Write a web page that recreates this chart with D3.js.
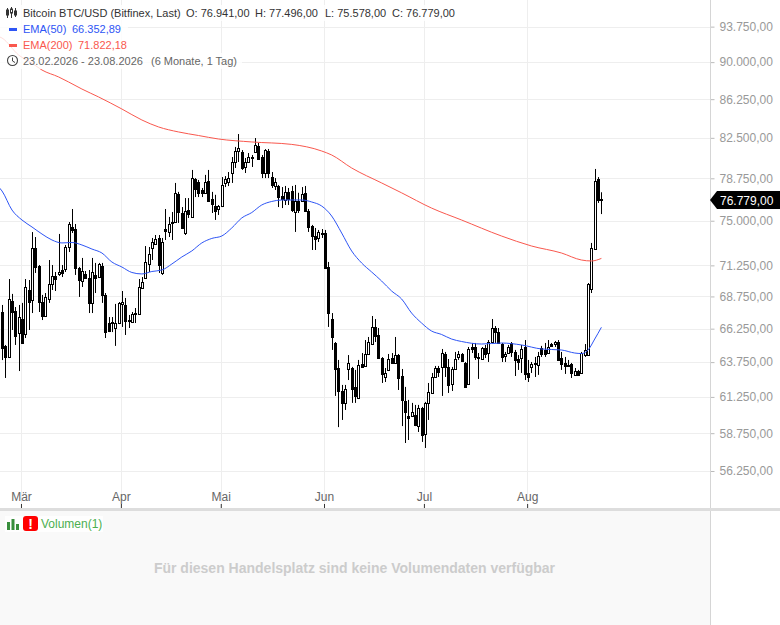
<!DOCTYPE html>
<html>
<head>
<meta charset="utf-8">
<script src="https://cdnjs.cloudflare.com/ajax/libs/d3/7.8.5/d3.min.js"></script>
<style>
  html, body { margin: 0; padding: 0; background: #fff; }
  svg { display: block; font-family: "Liberation Sans", Arial, sans-serif; }
</style>
</head>
<body>
<div id="chart"></div>
<script>
// daily candles, 23.02.2026 - 23.08.2026
const opens = [
  67530,64950,64130,68390,67610,65920,66990,65850,69260,68470,
  72690,71200,68310,67220,68550,69740,70390,70550,70870,70950,
  72770,74470,74290,71040,69980,70550,70220,68240,70470,70300,
  71200,68870,66680,66750,66300,66680,68160,68080,66910,66760,
  67450,67380,69420,70220,71360,72690,73030,73530,70630,74290,
  74040,74890,74890,77360,75670,73950,75930,75330,78680,78420,
  77700,77450,78510,76900,76280,76020,76280,78330,78420,79230,
  80240,81260,81170,79780,80240,80700,81170,81730,80700,79230,
  81260,78860,78060,78060,77170,76810,77530,77610,75760,76720,
  76720,77450,75850,74550,73700,73530,73950,73950,71120,66990,
  65170,63320,61670,60830,63250,63320,61960,61180,63620,63470,
  64350,65090,66380,65770,64050,62670,63180,64050,63690,64270,
  62740,60970,59920,59920,59990,59230,60480,58700,60830,61530,
  62670,63320,63400,64350,63400,62170,63250,64130,64350,63690,
  62170,64870,64870,64130,63980,64790,64420,65240,66300,66000,
  65090,64200,64420,65170,64500,63980,64050,64870,62960,63400,
  63690,63540,64790,64650,64420,65090,65090,65240,64050,63690,
  63540,63620,62820,63100,62960,64270,64270,69340,72600,78680,76941
]
const highs = [
  68080,65020,70140,68950,67920,68080,68240,70140,70060,74030,
  73610,71280,68870,69020,71690,71280,70710,73870,71280,72940,
  74890,76020,74720,71120,71860,70790,70870,71860,71450,71450,
  71450,69020,67140,67140,68160,68310,69180,68630,67300,67530,
  67840,70140,70300,72850,72770,73530,73780,73780,73530,76020,
  75330,75760,78330,77530,76190,76980,76980,79510,78770,78600,
  77880,79060,79510,77530,77270,76370,78860,78950,79320,80700,
  81640,82860,81350,80610,81070,80890,82480,82010,80890,81440,
  81450,79320,78770,78150,77960,78060,77880,78060,78150,77450,
  77960,78060,76020,74640,74380,74210,74290,74210,71530,67450,
  65240,63910,62100,62100,64270,63400,63180,63910,64420,65390,
  65620,67220,66990,66300,64120,63320,64350,64420,65620,64350,
  63250,61960,61040,60830,60690,60690,60550,60900,62240,62960,
  63470,63470,64720,64500,63980,63400,64500,64570,64420,63760,
  64870,65170,65170,64420,64870,65020,65390,66990,66450,66300,
  65170,64500,65020,65240,64650,64270,65020,65390,63910,63760,
  64130,64500,64950,65170,65390,65170,65320,65390,64500,64130,
  63910,63690,63320,63180,64500,65090,69820,73110,79600,78860,77496
]
const lows = [
  63900,62600,64050,66150,65020,63100,65090,65540,66150,67450,
  70630,67530,66910,67150,68240,69260,69180,70390,70300,70710,
  72350,73950,70470,68710,69500,70220,67450,67450,69020,70220,
  68240,65540,65990,65990,64950,66600,66380,65770,66300,66680,
  66680,67380,69340,70140,70710,71690,72940,70630,70470,73360,
  73610,73360,74810,74810,74290,73780,75240,75240,77070,77070,
  77070,77400,76640,75670,75070,75500,76190,77960,78050,78330,
  79690,80240,79510,79230,80150,79780,81100,80430,78770,78770,
  78770,77880,77700,76190,76100,76370,76370,75760,74040,75670,
  76640,75760,74040,72520,72520,73190,73530,70950,66380,64650,
  61320,59160,59650,60340,62450,60830,60830,61100,63320,63400,
  64270,65020,65240,63980,62240,62310,63100,63620,63620,61740,
  59230,58090,58290,59850,59230,58830,58160,57760,59650,61460,
  62600,62670,61320,62670,61530,61670,63180,63910,63760,61880,
  62100,64420,63910,62530,63910,64050,63760,65170,65170,65090,
  63760,63760,64350,64130,62740,63180,62960,62450,62310,62960,
  62670,62820,64130,64130,64350,64870,64870,63830,63180,62890,
  63400,62600,62740,62740,62890,64130,64200,69020,72600,76550,75578
]
const closes = [
  64790,64130,68550,67530,65690,67140,65170,69500,68310,72690,
  71120,68310,67220,68710,69740,70390,70140,70710,70630,72770,
  74720,74210,71040,70060,70790,70220,68240,70710,70220,71360,
  68870,66000,66070,66680,66680,68240,68310,66840,66840,67380,
  67380,69500,69900,71530,72190,73190,73440,71280,73190,74120,
  74720,74810,77450,75760,74380,75850,75590,78770,77790,77450,
  77450,78420,76720,76460,75850,76280,78150,78680,78770,80240,
  81260,81540,79690,80240,80700,80610,81830,80520,79230,81350,
  79230,78150,78420,77070,76900,77530,76900,75930,76720,75930,
  77360,75850,74470,73700,73440,74040,73870,71040,67450,65620,
  63250,61670,60830,61810,63690,61810,61320,63540,63400,64350,
  65240,66380,65690,64050,62890,62960,63980,63690,64270,62600,
  61040,60200,59780,60200,59310,60480,58630,60830,61600,62670,
  63320,63030,64420,63400,62100,63250,63980,64350,63830,61960,
  64720,64720,64130,64050,64790,64350,65240,66300,66000,65170,
  64130,64350,64870,64500,63910,63760,64720,62890,62670,63620,
  63620,64200,64350,64350,64870,64950,65240,63910,63620,63470,
  63470,62960,63100,62820,64420,64650,69740,72690,78510,76810,76779
]

// EMA readings, taken at these bar numbers (bar -1 lies at the left edge of the plot)
const ema50Bars = [-1,0,3,6,9,12,15,18,21,24,27,30,33,36,39,42,45,48,51,54,57,60,63,66,69,72,75,78,81,84,90,93,96,99,102,105,108,111,114,117,120,123,126,129,132,135,138,144,150,156,162,168,172,174,176,178,180]
const ema50 = [77960,77610,75930,75065,74465,73865,73360,73110,73150,72940,72600,72270,71525,71115,70670,70550,70750,70870,71360,71940,72440,73110,73490,73695,74380,75240,75710,76370,76680,76810,76810,76635,76280,75410,73950,72440,71445,70710,69980,69180,68550,67450,66680,66070,65810,65465,65280,65090,65165,65020,64720,64645,64420,64380,64645,65465,66353]
const ema200Bars = [-1,0,5,9,12,17,20,24,29,36,42,47,53,59,65,75,87,96,99,105,114,120,129,138,150,159,168,174,177,180]
const ema200 = [92700,92530,90740,89900,89190,88480,87970,87260,86470,85280,84210,83540,83060,82720,82390,82110,81880,81260,80890,79690,78330,77445,76100,75065,73695,72855,72270,71690,71610,71822]

const priceTicks = [93750,90000,86250,82500,78750,75000,71250,68750,66250,63750,61250,58750,56250]
const monthNames = ['Mär','Apr','Mai','Jun','Jul','Aug']
const monthBars = [6,36,66,97,127,158]
const lastPrice = 76779

const width = 780
const height = 625
const plotRight = 710
const plotBottom = 508

const de = d3.formatLocale({decimal: ',', thousands: '.', grouping: [3], currency: ['', '']})
const fmtPrice = de.format(',.2f')

const x = d3.scaleLinear().domain([0, 180]).range([2, 601.4])
const y = d3.scaleLog().domain([56250, 78750]).range([471, 178.3])

const svg = d3.select('#chart').append('svg')
  .attr('width', width).attr('height', height)
  .attr('viewBox', [0, 0, width, height])

// volume panel background
svg.append('rect').attr('x', 0).attr('y', plotBottom).attr('width', plotRight).attr('height', height - plotBottom).attr('fill', '#f9f9f9')

// grid
svg.append('g').selectAll('line').data(priceTicks).join('line')
  .attr('x1', 0).attr('x2', plotRight)
  .attr('y1', d => Math.round(y(d)) + 0.5).attr('y2', d => Math.round(y(d)) + 0.5)
  .attr('stroke', '#eeeeee')
svg.append('g').selectAll('line').data(monthBars).join('line')
  .attr('x1', d => Math.round(x(d)) - 0.5).attr('x2', d => Math.round(x(d)) - 0.5)
  .attr('y1', 0).attr('y2', plotBottom)
  .attr('stroke', '#eeeeee')

// candles
const bars = d3.range(opens.length)
const candles = svg.append('g')
candles.selectAll('line').data(bars).join('line')
  .attr('x1', i => Math.round(x(i)) + 0.5).attr('x2', i => Math.round(x(i)) + 0.5)
  .attr('y1', i => y(highs[i])).attr('y2', i => y(lows[i]))
  .attr('stroke', '#000')
candles.selectAll('rect').data(bars).join('rect')
  .attr('x', i => Math.round(x(i)) - 0.5)
  .attr('width', 2)
  .attr('y', i => Math.round(y(Math.max(opens[i], closes[i]))) + 0.5)
  .attr('height', i => Math.max(1, Math.round(y(Math.min(opens[i], closes[i]))) - Math.round(y(Math.max(opens[i], closes[i])))))
  .attr('fill', i => closes[i] >= opens[i] ? '#fff' : '#000')
  .attr('stroke', '#000')

// EMAs
const emaLine = d3.line().x(d => x(d[0])).y(d => y(d[1])).curve(d3.curveMonotoneX)
svg.append('path').attr('d', emaLine(d3.zip(ema50Bars, ema50)))
  .attr('fill', 'none').attr('stroke', '#2e55f5').attr('stroke-width', 1)
svg.append('path').attr('d', emaLine(d3.zip(ema200Bars, ema200)))
  .attr('fill', 'none').attr('stroke', '#f9584e').attr('stroke-width', 1)

// price axis
const yAxis = svg.append('g').attr('transform', `translate(${plotRight + 0.5},0)`)
  .call(d3.axisRight(y).tickValues(priceTicks).tickSize(4).tickPadding(5).tickFormat(fmtPrice))
yAxis.select('.domain').remove()
yAxis.selectAll('.tick line').attr('stroke', '#bbbbbb')
yAxis.selectAll('.tick text').attr('fill', '#999999').attr('font-size', 12).attr('font-family', '"Liberation Sans", Arial, sans-serif')
svg.append('line').attr('x1', plotRight + 0.5).attr('x2', plotRight + 0.5).attr('y1', 0).attr('y2', height).attr('stroke', '#d5d5d5')

// last price tag
const tagY = Math.round(y(lastPrice))
svg.append('path')
  .attr('d', d3.line()([[plotRight, tagY], [plotRight + 7, tagY - 9], [width, tagY - 9], [width, tagY + 9], [plotRight + 7, tagY + 9]]) + 'Z')
  .attr('fill', '#000')
svg.append('text').attr('x', 720).attr('y', tagY + 4.5).attr('fill', '#fff').attr('font-size', 12).text(fmtPrice(lastPrice))

// month axis
const xAxis = svg.append('g').attr('transform', `translate(-1,${plotBottom - 4})`)
  .call(d3.axisBottom(x).tickValues(monthBars).tickSize(4).tickFormat((d, i) => monthNames[i]))
xAxis.select('.domain').remove()
xAxis.selectAll('.tick line').attr('stroke', '#333')
xAxis.selectAll('.tick text').attr('fill', '#666666').attr('font-size', 12).attr('font-family', '"Liberation Sans", Arial, sans-serif').attr('y', -3).attr('dy', 0)

// separator between the panels
svg.append('rect').attr('x', 0).attr('y', plotBottom).attr('width', width).attr('height', 3).attr('fill', '#dddddd')

// legend
const legend = svg.append('g')
const rows = [[0, 5, 458, 16], [0, 21, 128, 16], [0, 37, 134, 16], [0, 53, 242, 16]]
legend.selectAll('rect').data(rows).join('rect')
  .attr('x', d => d[0]).attr('y', d => d[1]).attr('width', d => d[2]).attr('height', d => d[3])
  .attr('fill', '#fff').attr('opacity', 0.8)

// candle icon
const icon = legend.append('g').attr('stroke', '#333').attr('fill', '#333')
;[[7.5, 8, 18, 10, 15], [11.5, 7, 18, 9, 13], [15.5, 8, 17, 11, 15]].forEach(d => {
  icon.append('line').attr('x1', d[0]).attr('x2', d[0]).attr('y1', d[1]).attr('y2', d[2])
  icon.append('rect').attr('x', d[0] - 1).attr('y', d[3]).attr('width', 2).attr('height', d[4] - d[3]).attr('fill', d[0] === 11.5 ? '#fff' : '#333')
})

const textRow = (tx, ty, fill, s) => legend.append('text').attr('x', tx).attr('y', ty).attr('fill', fill).attr('font-size', 11).text(s)
textRow(23, 17, '#333333', 'Bitcoin BTC/USD (Bitfinex, Last)')
textRow(186, 17, '#333333', 'O: 76.941,00')
textRow(255, 17, '#333333', 'H: 77.496,00')
textRow(325, 17, '#333333', 'L: 75.578,00')
textRow(392, 17, '#333333', 'C: 76.779,00')
textRow(23, 33, '#2e55f5', 'EMA(50)')
textRow(72, 33, '#2e55f5', '66.352,89')
textRow(23, 49, '#f9584e', 'EMA(200)')
textRow(78, 49, '#f9584e', '71.822,18')
textRow(23, 65, '#666666', '23.02.2026 - 23.08.2026')
textRow(151, 65, '#666666', '(6 Monate, 1 Tag)')
legend.append('rect').attr('x', 9).attr('y', 28).attr('width', 8).attr('height', 3).attr('fill', '#2e55f5')
legend.append('rect').attr('x', 9).attr('y', 44).attr('width', 8).attr('height', 3).attr('fill', '#f9584e')

// clock icon
legend.append('circle').attr('cx', 12.5).attr('cy', 60.5).attr('r', 5).attr('fill', 'none').attr('stroke', '#444').attr('stroke-width', 1.1)
legend.append('path').attr('d', 'M12.5 57.5V61L15 62.5').attr('fill', 'none').attr('stroke', '#444')

// volume legend
const volume = svg.append('g')
volume.append('rect').attr('x', 5).attr('y', 516).attr('width', 98).attr('height', 16).attr('fill', '#fff').attr('opacity', 0.8)
;[[7, 522, 8], [11.5, 519, 11], [16, 524, 6]].forEach(d => {
  volume.append('rect').attr('x', d[0]).attr('y', d[1]).attr('width', 3).attr('height', d[2]).attr('fill', '#388e3c')
})
volume.append('rect').attr('x', 23).attr('y', 516).attr('width', 15).attr('height', 15).attr('rx', 3).attr('fill', '#ff0000')
volume.append('text').attr('x', 30.5).attr('y', 528.5).attr('text-anchor', 'middle').attr('font-size', 14).attr('font-weight', 'bold').attr('fill', '#fff').text('!')
volume.append('text').attr('x', 41).attr('y', 528).attr('font-size', 12).attr('fill', '#4caf50').text('Volumen(1)')
svg.append('text').attr('x', 354.5).attr('y', 573).attr('text-anchor', 'middle').attr('font-size', 14).attr('font-weight', 'bold').attr('fill', '#cccccc')
  .text('Für diesen Handelsplatz sind keine Volumendaten verfügbar')
</script>
</body>
</html>
